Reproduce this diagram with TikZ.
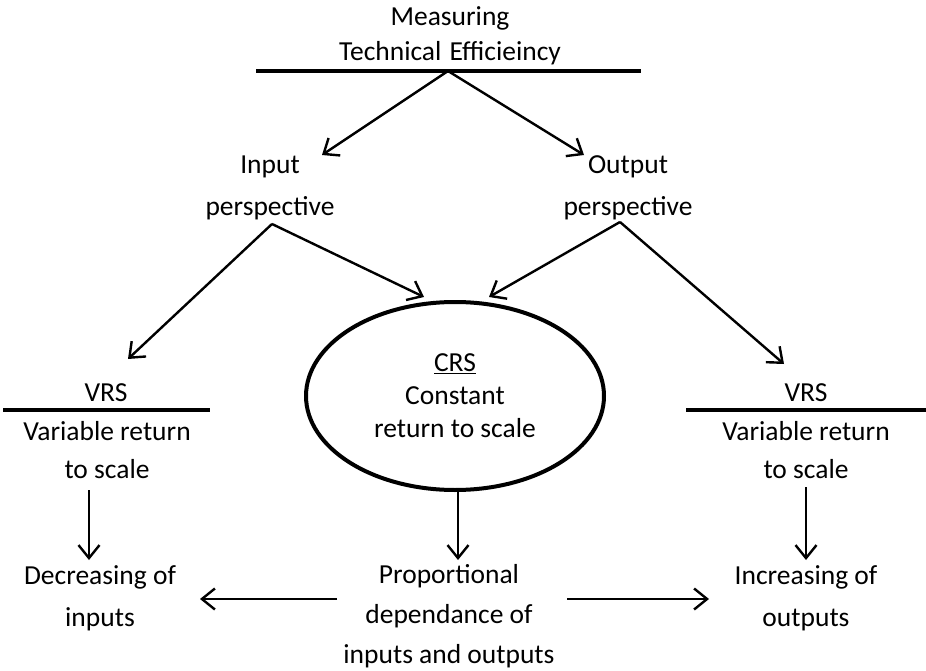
\documentclass[tikz,border=0pt]{standalone}
\usepackage{fontspec}
\setmainfont{Carlito}
\usetikzlibrary{arrows.meta,shapes.geometric}
\tikzset{
  lbl/.style={font=\fontsize{27.5pt}{#1}\selectfont, align=center, inner sep=0pt, anchor=base},
  lbl/.default=40pt,
  conn/.style={line width=2.4pt, -{Straight Barb[length=13pt,width=21pt]}},
  bar/.style={line width=4.5pt},
  oval/.style={draw, ellipse, line width=4pt, minimum width=298pt, minimum height=188pt,
    font=\fontsize{27.5pt}{33pt}\selectfont, align=center, inner sep=0pt},
}
\begin{document}
\begin{tikzpicture}[x=1pt,y=-1pt]
\useasboundingbox (0,0) rectangle (926,671);

% title
\node[lbl=35pt] (te) at (450,61) {Measuring\\Technical~\hspace{2pt}Efficieincy};
\coordinate (tbl) at (256,71);
\coordinate (tbr) at (641,71);
\draw[bar] (tbl) -- (tbr);
\coordinate (apex) at (448,71);

% perspectives
\node[lbl=42pt] (inp) at (270,215) {Input\\perspective};
\node[lbl=42pt] (outp) at (628,215) {Output\\perspective};
\coordinate (inpt) at (322,155);
\coordinate (outpt) at (584,155);
\coordinate (inv) at (272,224);
\coordinate (outv) at (620,222);

% CRS ellipse
\node[oval] (crs) at (455,396) {\underline{CRS}\\Constant\\return to scale};
\coordinate (crsl) at (424,297);
\coordinate (crsr) at (489,297);

% VRS left
\node[lbl] (vrsl) at (106,401) {VRS};
\coordinate (vbl1) at (3,410);
\coordinate (vbl2) at (210,410);
\draw[bar] (vbl1) -- (vbl2);
\node[lbl=38pt] (varl) at (107,478) {Variable return\\to scale};
\coordinate (vrslt) at (128,359);

% VRS right
\node[lbl] (vrsr) at (806,401) {VRS};
\coordinate (vbr1) at (686,410);
\coordinate (vbr2) at (926,410);
\draw[bar] (vbr1) -- (vbr2);
\node[lbl=38pt] (varr) at (806,478) {Variable return\\to scale};
\coordinate (vrsrt) at (784,364);

% bottom
\node[lbl=42pt] (dec) at (100,626) {Decreasing of\\inputs};
\node[lbl=40pt] (prop) at (449,663) {Proportional\\dependance of\\inputs and outputs};
\node[lbl=42pt] (inc) at (806,626) {Increasing of\\outputs};

% arrows
\draw[conn] (apex) -- (inpt);
\draw[conn] (apex) -- (outpt);
\draw[conn] (inv) -- (crsl);
\draw[conn] (inv) -- (vrslt);
\draw[conn] (outv) -- (crsr);
\draw[conn] (outv) -- (vrsrt);

\coordinate (a1s) at (89,490);  \coordinate (a1e) at (89,560);
\coordinate (a2s) at (458,492); \coordinate (a2e) at (458,560);
\coordinate (a3s) at (806,487); \coordinate (a3e) at (806,560);
\draw[conn] (a1s) -- (a1e);
\draw[conn] (a2s) -- (a2e);
\draw[conn] (a3s) -- (a3e);

\coordinate (h1s) at (337,599); \coordinate (h1e) at (200,599);
\coordinate (h2s) at (567,599); \coordinate (h2e) at (709,599);
\draw[conn] (h1s) -- (h1e);
\draw[conn] (h2s) -- (h2e);
\end{tikzpicture}
\end{document}
